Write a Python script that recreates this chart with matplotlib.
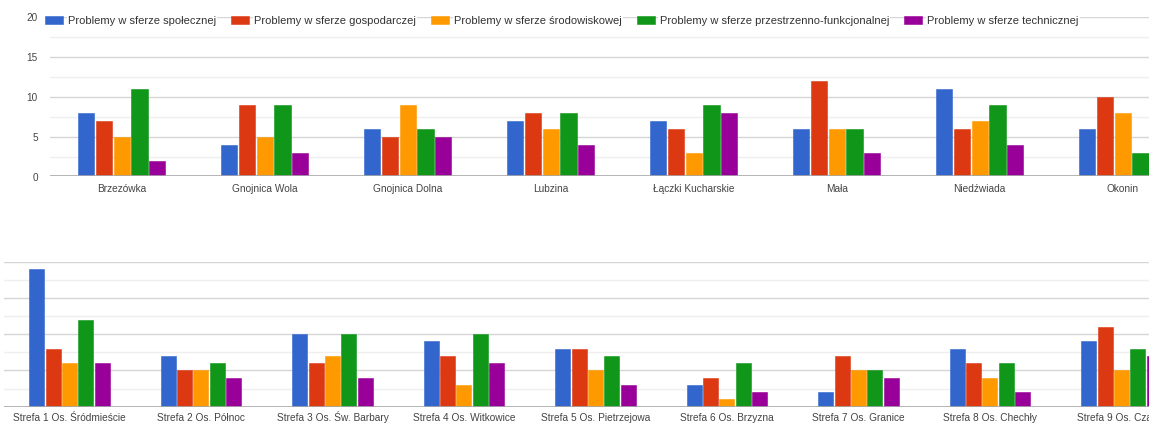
#!/usr/bin/env python

import numpy as np
import matplotlib
matplotlib.use('Agg')
import matplotlib.pyplot as plt

seriesNames = ["Problemy w sferze społecznej",
               "Problemy w sferze gospodarczej",
               "Problemy w sferze środowiskowej",
               "Problemy w sferze przestrzenno-funkcjonalnej",
               "Problemy w sferze technicznej"]

# upper chart - villages
villages = ["Brzezówka", "Gnojnica Wola", "Gnojnica Dolna", "Lubzina",
            "Łączki Kucharskie", "Mała", "Niedźwiada", "Okonin"]
v_spoleczne = [8, 4, 6, 7, 7, 6, 11, 6]
v_gospodarcze = [7, 9, 5, 8, 6, 12, 6, 10]
v_srodowiskowe = [5, 5, 9, 6, 3, 6, 7, 8]
v_przestrzenne = [11, 9, 6, 8, 9, 6, 9, 3]
v_techniczne = [2, 3, 5, 4, 8, 3, 4, np.nan]   # last one is cut off in the picture

# lower chart - town zones
zones = ["Strefa 1 Os. Śródmieście", "Strefa 2 Os. Północ",
         "Strefa 3 Os. Św. Barbary", "Strefa 4 Os. Witkowice",
         "Strefa 5 Os. Pietrzejowa", "Strefa 6 Os. Brzyzna",
         "Strefa 7 Os. Granice", "Strefa 8 Os. Chechły",
         "Strefa 9 Os. Czarna"]
z_spoleczne = [19, 7, 10, 9, 8, 3, 2, 8, 9]
z_gospodarcze = [8, 5, 6, 7, 8, 4, 7, 6, 11]
z_srodowiskowe = [6, 5, 7, 3, 5, 1, 5, 4, 5]
z_przestrzenne = [12, 6, 10, 10, 7, 6, 5, 6, 8]
z_techniczne = [6, 4, 4, 6, 3, 2, 4, 2, 7]

colors = ['#3366cc', '#dc3912', '#ff9900', '#109618', '#990099']

W, H = 1149, 423
plt.rcParams['font.family'] = ['Liberation Sans', 'DejaVu Sans']


def px(x0, y0top, width, height):
    # pixel box (left, top) -> figure fraction
    return [x0 / W, 1 - (y0top + height) / H, width / W, height / H]


def DrawGroups(ax, labels, seriesList, xRight, showYLabels, labelPad):
    n = len(seriesList)
    slot = 0.124
    xs = np.arange(len(labels))
    bars = []
    for sIndex, vals in enumerate(seriesList):
        offset = (sIndex - (n - 1) / 2.0) * slot
        b = ax.bar(xs + offset, vals, width=slot * 0.92, color=colors[sIndex],
                   edgecolor=colors[sIndex], linewidth=0.4, zorder=3,
                   label=seriesNames[sIndex])
        bars.append(b)

    ax.set_xlim(-0.5, xRight)
    ax.set_ylim(0, 20)
    for yv in np.arange(2.5, 20, 5):
        ax.axhline(yv, color='#efefef', lw=1, zorder=1)
    for yv in [5, 10, 15, 20]:
        ax.axhline(yv, color='#d6d6d6', lw=1, zorder=1)
    ax.axhline(0, color='#a8a8a8', lw=1.2, zorder=4)

    for sp in ax.spines.values():
        sp.set_visible(False)
    ax.set_xticks(xs)
    ax.set_xticklabels(labels, fontsize=7.3, color='#444444', va='baseline')
    # baseline alignment so accented capitals don't push labels down
    ax.tick_params(axis='x', length=0, pad=labelPad)
    if showYLabels:
        ax.set_yticks([0, 5, 10, 15, 20])
        ax.tick_params(axis='y', length=0, pad=9, labelsize=7.2, labelcolor='#444444')
    else:
        ax.set_yticks([])
    return bars


fig = plt.figure(figsize=(W / 100.0, H / 100.0), dpi=100)

axTop = fig.add_axes(px(50.3, 16.8, W - 50.3, 159.7))
topBars = DrawGroups(axTop, villages,
                     [v_spoleczne, v_gospodarcze, v_srodowiskowe, v_przestrzenne, v_techniczne],
                     -0.5 + (W - 50.3) / 143.0, True, 10.8)

axBot = fig.add_axes(px(3.7, 261.7, W - 3.7, 145.0))
DrawGroups(axBot, zones,
           [z_spoleczne, z_gospodarcze, z_srodowiskowe, z_przestrzenne, z_techniczne],
           -0.5 + (W - 3.7) / 131.5, False, 10.2)

# legend sits on top of the 20 gridline, like the google chart
fs = 8.0
fsPx = fs / 0.72
leg = fig.legend(handles=topBars, labels=seriesNames, ncol=5, loc='center left',
                 bbox_to_anchor=(45.0 / W, 1 - 21.0 / H), frameon=False,
                 fontsize=fs, borderpad=0, borderaxespad=0,
                 handlelength=18 / fsPx, handleheight=8 / fsPx,
                 handletextpad=5 / fsPx, columnspacing=15 / fsPx)
for t in leg.get_texts():
    t.set_color('#333333')
    t.set_bbox(dict(facecolor='white', edgecolor='none', pad=1))

fig.savefig('out.png', dpi=100)
